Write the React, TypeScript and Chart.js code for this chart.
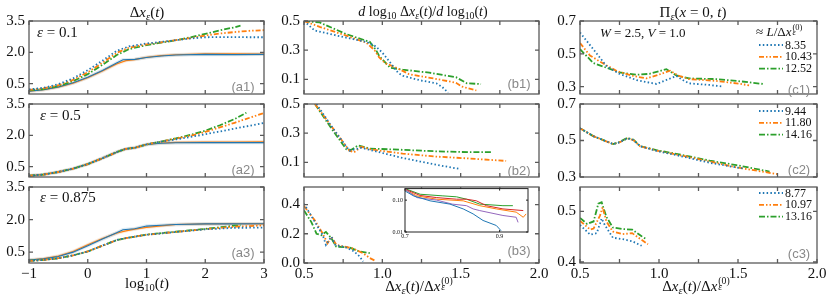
import React, { useEffect, useRef } from 'react';
import { Chart, registerables } from 'chart.js';
Chart.register(...registerables);

type Pt = [number, number];

// ---------- tick values ----------
const A_X_LABELS = [-1, 0, 1, 2, 3];
const BC_X_LABELS = [0.5, 1.0, 1.5, 2.0];
const BC_X_MARKS = [0.5, 0.75, 1.0, 1.25, 1.5, 1.75, 2.0];
const A_Y_TICKS = [0.5, 2.0, 3.5];
const B12_Y_TICKS = [0.1, 0.3, 0.5];
const B3_Y_TICKS = [0.0, 0.2, 0.4];
const C12_Y_TICKS = [0.3, 0.5, 0.7];
const C3_Y_TICKS = [0.4, 0.5];
const INSET_X_TICKS = [0.7, 0.9];
const INSET_Y_TICKS = [0.01, 0.1];

// ---------- legend labels ----------
const C1_LABELS = ['8.35', '10.43', '12.52'];
const C2_LABELS = ['9.44', '11.80', '14.16'];
const C3_LABELS = ['8.77', '10.97', '13.16'];

// ---------- panel a1 ----------
const a1Blue: Pt[] = [[-1, 0.22], [-0.75, 0.3], [-0.5, 0.47], [-0.25, 0.75], [0, 1.14], [0.25, 1.6], [0.5, 2.08], [0.7, 2.28], [1, 2.42], [1.25, 2.5], [1.5, 2.58], [1.75, 2.66], [2, 2.72], [2.25, 2.73], [2.5, 2.73], [2.75, 2.72], [3, 2.72]];
const a1Orange: Pt[] = [[-1, 0.2], [-0.75, 0.27], [-0.5, 0.42], [-0.25, 0.68], [0, 1.04], [0.25, 1.5], [0.5, 1.98], [0.7, 2.22], [1, 2.38], [1.25, 2.48], [1.5, 2.58], [1.75, 2.68], [2, 2.8], [2.25, 2.9], [2.5, 2.97], [2.75, 3.03], [3, 3.06]];
const a1Green: Pt[] = [[-1, 0.18], [-0.75, 0.24], [-0.5, 0.38], [-0.25, 0.62], [0, 0.95], [0.25, 1.4], [0.5, 1.88], [0.7, 2.15], [1, 2.34], [1.25, 2.46], [1.5, 2.58], [1.75, 2.72], [2, 2.88], [2.25, 3.05], [2.5, 3.2], [2.6, 3.28]];
const a1SolidBlue: Pt[] = [[-1, 0.14], [-0.75, 0.21], [-0.5, 0.34], [-0.25, 0.54], [0, 0.8], [0.25, 1.13], [0.5, 1.5], [0.6, 1.64], [0.8, 1.66], [1, 1.75], [1.25, 1.82], [1.5, 1.87], [2, 1.9], [2.5, 1.89], [3, 1.9]];
const a1SolidOrange: Pt[] = [[-1, 0.13], [-0.75, 0.2], [-0.5, 0.33], [-0.25, 0.52], [0, 0.78], [0.25, 1.1], [0.5, 1.45], [0.65, 1.6], [0.8, 1.65], [1, 1.76], [1.25, 1.84], [1.5, 1.88], [2, 1.93], [2.5, 1.93], [3, 1.92]];

// ---------- panel a2 ----------
const a2Blue: Pt[] = [[-1, 0.06], [-0.75, 0.12], [-0.5, 0.24], [-0.25, 0.4], [0, 0.62], [0.25, 0.9], [0.5, 1.2], [0.65, 1.35], [0.8, 1.4], [1, 1.56], [1.25, 1.7], [1.5, 1.8], [1.75, 1.92], [2, 2.05], [2.5, 2.32], [3, 2.59]];
const a2Orange: Pt[] = [[-1, 0.06], [-0.75, 0.12], [-0.5, 0.24], [-0.25, 0.4], [0, 0.62], [0.25, 0.9], [0.5, 1.2], [0.65, 1.35], [0.8, 1.4], [1, 1.56], [1.25, 1.7], [1.5, 1.84], [1.75, 1.98], [2, 2.16], [2.5, 2.6], [3, 3.07]];
const a2Green: Pt[] = [[-1, 0.06], [-0.75, 0.12], [-0.5, 0.24], [-0.25, 0.4], [0, 0.62], [0.25, 0.9], [0.5, 1.2], [0.65, 1.35], [0.8, 1.4], [1, 1.56], [1.25, 1.7], [1.5, 1.85], [1.75, 2.02], [2, 2.22], [2.25, 2.48], [2.5, 2.78], [2.7, 3.08]];
const a2SolidBlue: Pt[] = [[-1, 0.06], [-0.75, 0.12], [-0.5, 0.24], [-0.25, 0.4], [0, 0.62], [0.25, 0.9], [0.5, 1.2], [0.65, 1.35], [0.8, 1.4], [1, 1.56], [1.25, 1.62], [1.5, 1.64], [2, 1.65], [2.5, 1.65], [3, 1.65]];
const a2SolidOrange: Pt[] = [[-1, 0.06], [-0.75, 0.12], [-0.5, 0.24], [-0.25, 0.4], [0, 0.62], [0.25, 0.9], [0.5, 1.2], [0.65, 1.35], [0.8, 1.4], [1, 1.56], [1.25, 1.63], [1.5, 1.66], [2, 1.67], [2.5, 1.68], [3, 1.69]];

// ---------- panel a3 ----------
const a3Blue: Pt[] = [[-1, 0.1], [-0.75, 0.14], [-0.5, 0.22], [-0.25, 0.35], [0, 0.53], [0.25, 0.8], [0.5, 1.06], [0.7, 1.17], [1, 1.3], [1.5, 1.43], [2, 1.55], [2.5, 1.62], [3, 1.63]];
const a3Orange: Pt[] = [[-1, 0.1], [-0.75, 0.14], [-0.5, 0.22], [-0.25, 0.35], [0, 0.53], [0.25, 0.8], [0.5, 1.06], [0.7, 1.17], [1, 1.3], [1.5, 1.43], [2, 1.56], [2.5, 1.67], [3, 1.73]];
const a3Green: Pt[] = [[-1, 0.1], [-0.75, 0.14], [-0.5, 0.22], [-0.25, 0.35], [0, 0.53], [0.25, 0.8], [0.5, 1.06], [0.7, 1.17], [1, 1.31], [1.5, 1.44], [2, 1.57], [2.5, 1.72], [2.6, 1.73]];
const a3SolidBlue: Pt[] = [[-1, 0.14], [-0.75, 0.19], [-0.5, 0.3], [-0.25, 0.5], [0, 0.8], [0.25, 1.1], [0.5, 1.4], [0.6, 1.53], [0.8, 1.58], [1, 1.7], [1.25, 1.74], [1.5, 1.77], [2, 1.8], [2.5, 1.8], [3, 1.81]];
const a3SolidOrange: Pt[] = [[-1, 0.14], [-0.75, 0.2], [-0.5, 0.32], [-0.25, 0.53], [0, 0.84], [0.25, 1.13], [0.5, 1.38], [0.65, 1.48], [0.8, 1.56], [1, 1.64], [1.25, 1.71], [1.5, 1.77], [2, 1.8], [2.5, 1.81], [3, 1.8]];

// ---------- panel b1 ----------
const b1Blue: Pt[] = [[0.5, 0.5], [0.568, 0.435], [0.65, 0.415], [0.76, 0.388], [0.9, 0.357], [0.96, 0.325], [1.0, 0.283], [1.047, 0.22], [1.1, 0.146], [1.13, 0.125], [1.24, 0.094], [1.345, 0.073], [1.38, 0.05], [1.42, 0.01]];
const b1Orange: Pt[] = [[0.5, 0.5], [0.6, 0.46], [0.77, 0.4], [0.9, 0.35], [0.95, 0.3], [0.98, 0.25], [1.02, 0.21], [1.09, 0.18], [1.17, 0.136], [1.28, 0.115], [1.39, 0.094], [1.47, 0.077], [1.51, 0.05], [1.6, 0.024]];
const b1Green: Pt[] = [[0.5, 0.5], [0.6, 0.49], [0.77, 0.41], [0.92, 0.357], [0.96, 0.3], [0.98, 0.26], [1.05, 0.18], [1.13, 0.167], [1.3, 0.146], [1.47, 0.115], [1.54, 0.073], [1.63, 0.068]];

// ---------- panel b2 ----------
const b2Blue: Pt[] = [[0.58, 0.5], [0.68, 0.34], [0.79, 0.18], [0.866, 0.2], [0.98, 0.17], [1.13, 0.13], [1.24, 0.106], [1.39, 0.075], [1.5, 0.054]];
const b2Orange: Pt[] = [[0.57, 0.5], [0.68, 0.34], [0.79, 0.18], [0.82, 0.17], [0.866, 0.207], [0.92, 0.19], [1.13, 0.16], [1.34, 0.14], [1.55, 0.127], [1.79, 0.11]];
const b2Green: Pt[] = [[0.57, 0.5], [0.67, 0.34], [0.77, 0.19], [0.8, 0.185], [0.845, 0.216], [0.92, 0.195], [1.13, 0.186], [1.34, 0.176], [1.55, 0.17], [1.7, 0.17]];

// ---------- panel b3 ----------
const b3Blue: Pt[] = [[0.5, 0.405], [0.557, 0.303], [0.62, 0.19], [0.64, 0.124], [0.675, 0.18], [0.7, 0.124], [0.77, 0.106], [0.82, 0.079], [0.855, 0.045], [0.877, 0.011]];
const b3Orange: Pt[] = [[0.5, 0.39], [0.57, 0.29], [0.62, 0.2], [0.65, 0.135], [0.675, 0.18], [0.706, 0.124], [0.81, 0.1], [0.877, 0.067], [0.92, 0.034], [0.95, 0.018]];
const b3Green: Pt[] = [[0.5, 0.36], [0.547, 0.28], [0.58, 0.2], [0.61, 0.19], [0.64, 0.213], [0.675, 0.169], [0.706, 0.112], [0.79, 0.106], [0.855, 0.079], [0.92, 0.067]];

// ---------- inset (b3) ----------
const inBlue: Pt[] = [[0.7, 0.194], [0.718, 0.136], [0.753, 0.095], [0.795, 0.075], [0.823, 0.053], [0.844, 0.037], [0.865, 0.023], [0.893, 0.016], [0.903, 0.011]];
const inPurple: Pt[] = [[0.7, 0.22], [0.725, 0.12], [0.767, 0.1], [0.8, 0.075], [0.83, 0.067], [0.844, 0.053], [0.858, 0.047], [0.907, 0.033], [0.935, 0.029], [0.939, 0.02]];
const inOrange: Pt[] = [[0.7, 0.21], [0.725, 0.136], [0.767, 0.107], [0.823, 0.095], [0.858, 0.067], [0.893, 0.053], [0.935, 0.042], [0.95, 0.029], [0.956, 0.037]];
const inRed: Pt[] = [[0.7, 0.22], [0.732, 0.14], [0.767, 0.12], [0.809, 0.107], [0.83, 0.107], [0.851, 0.095], [0.872, 0.067], [0.907, 0.053], [0.95, 0.047]];
const inGreen: Pt[] = [[0.7, 0.23], [0.732, 0.153], [0.78, 0.136], [0.809, 0.127], [0.83, 0.107], [0.858, 0.075], [0.907, 0.067], [0.928, 0.067]];

// ---------- panel c1 ----------
const c1Blue: Pt[] = [[0.5, 0.63], [0.584, 0.528], [0.668, 0.425], [0.75, 0.378], [0.858, 0.34], [0.984, 0.316], [1.11, 0.365], [1.15, 0.34], [1.19, 0.32], [1.32, 0.31], [1.405, 0.3]];
const c1Orange: Pt[] = [[0.5, 0.566], [0.563, 0.49], [0.626, 0.453], [0.73, 0.396], [0.837, 0.365], [0.92, 0.35], [0.984, 0.368], [1.07, 0.397], [1.12, 0.368], [1.19, 0.346], [1.36, 0.335], [1.49, 0.32], [1.57, 0.308]];
const c1Green: Pt[] = [[0.5, 0.528], [0.584, 0.444], [0.668, 0.415], [0.75, 0.387], [0.858, 0.372], [0.94, 0.378], [1.047, 0.406], [1.11, 0.368], [1.19, 0.35], [1.36, 0.346], [1.49, 0.335], [1.66, 0.316]];

// ---------- panel c2 ----------
const c2Blue: Pt[] = [[0.5, 0.567], [0.584, 0.524], [0.71, 0.48], [0.75, 0.49], [0.8, 0.512], [0.837, 0.503], [0.88, 0.469], [0.984, 0.443], [1.15, 0.412], [1.32, 0.378], [1.54, 0.345]];
const c2Orange: Pt[] = [[0.5, 0.567], [0.584, 0.524], [0.71, 0.48], [0.75, 0.49], [0.8, 0.512], [0.837, 0.503], [0.88, 0.469], [0.984, 0.445], [1.15, 0.416], [1.32, 0.385], [1.49, 0.353], [1.76, 0.314]];
const c2Green: Pt[] = [[0.5, 0.567], [0.584, 0.524], [0.71, 0.48], [0.75, 0.492], [0.8, 0.514], [0.837, 0.505], [0.88, 0.47], [0.984, 0.447], [1.15, 0.42], [1.32, 0.39], [1.49, 0.365], [1.7, 0.33]];

// ---------- panel c3 ----------
const c3Blue: Pt[] = [[0.5, 0.473], [0.565, 0.454], [0.606, 0.457], [0.627, 0.476], [0.637, 0.486], [0.657, 0.473], [0.708, 0.448], [0.77, 0.445], [0.83, 0.441], [0.89, 0.432]];
const c3Orange: Pt[] = [[0.5, 0.481], [0.565, 0.464], [0.586, 0.466], [0.627, 0.492], [0.643, 0.508], [0.667, 0.48], [0.708, 0.46], [0.77, 0.455], [0.83, 0.457], [0.87, 0.448], [0.93, 0.435]];
const c3Green: Pt[] = [[0.5, 0.487], [0.545, 0.475], [0.586, 0.48], [0.616, 0.515], [0.637, 0.518], [0.667, 0.489], [0.708, 0.468], [0.77, 0.465], [0.83, 0.464], [0.89, 0.451], [0.92, 0.445]];

// ---------- styles ----------
const BLUE = '#1f77b4';
const ORANGE = '#ff7f0e';
const GREEN = '#2ca02c';
const RED = '#d62728';
const PURPLE = '#9467bd';
const DOT = [1.5, 2.3];
const DDD = [5, 2, 1.5, 2, 1.5, 2];
const DD = [6, 2, 1.5, 2];
const SERIF = '"Liberation Serif", "DejaVu Serif", serif';
const SANS = '"Liberation Sans", Arial, sans-serif';

type Series = { pts: Pt[]; color: string; dash: number[]; width: number; halo?: boolean };
type Spec = {
  rect: [number, number, number, number];
  xMin: number; xMax: number; xLabels: number[]; xMarks: number[]; xFmt: (v: number) => string; showX: boolean;
  yMin: number; yMax: number; yTicks: number[]; yFmt: (v: number) => string; yLog?: boolean;
  series: Series[];
  legend?: { labels: string[]; top: number };
  inset?: boolean;
};

const trio = (b: Pt[], o: Pt[], g: Pt[]): Series[] => [
  { pts: b, color: BLUE, dash: DOT, width: 1.8 },
  { pts: o, color: ORANGE, dash: DDD, width: 1.8 },
  { pts: g, color: GREEN, dash: DD, width: 1.8 },
];
const solids = (b: Pt[], o: Pt[]): Series[] => [
  { pts: b, color: BLUE, dash: [], width: 1.1, halo: true },
  { pts: o, color: ORANGE, dash: [], width: 1.1, halo: true },
];

const fmtA = (v: number) => (v < 0 ? '\u2212' + Math.abs(v) : String(v));
const f1 = (v: number) => v.toFixed(1);
const f2 = (v: number) => v.toFixed(2);

const COLS: [number, number][] = [[29, 235], [304, 235], [580, 237]];
const ROWS: [number, number][] = [[18, 79], [101, 79], [184, 79]];
const rect = (c: number, r: number): [number, number, number, number] => [COLS[c][0], ROWS[r][0], COLS[c][1], ROWS[r][1]];

const aBase = { xMin: -1, xMax: 3, xLabels: A_X_LABELS, xMarks: A_X_LABELS, xFmt: fmtA, yMin: 0, yMax: 3.5, yTicks: A_Y_TICKS, yFmt: f1 };
const bcBase = { xMin: 0.5, xMax: 2.0, xLabels: BC_X_LABELS, xMarks: BC_X_MARKS, xFmt: f1, yFmt: f1 };

const SPECS: Spec[] = [
  { ...aBase, rect: rect(0, 0), showX: false, series: [...trio(a1Blue, a1Orange, a1Green), ...solids(a1SolidBlue, a1SolidOrange)] },
  { ...aBase, rect: rect(0, 1), showX: false, series: [...trio(a2Blue, a2Orange, a2Green), ...solids(a2SolidBlue, a2SolidOrange)] },
  { ...aBase, rect: rect(0, 2), showX: true, series: [...trio(a3Blue, a3Orange, a3Green), ...solids(a3SolidBlue, a3SolidOrange)] },
  { ...bcBase, rect: rect(1, 0), showX: false, yMin: 0, yMax: 0.5, yTicks: B12_Y_TICKS, series: trio(b1Blue, b1Orange, b1Green) },
  { ...bcBase, rect: rect(1, 1), showX: false, yMin: 0, yMax: 0.5, yTicks: B12_Y_TICKS, series: trio(b2Blue, b2Orange, b2Green) },
  { ...bcBase, rect: rect(1, 2), showX: true, yMin: 0, yMax: 0.52, yTicks: B3_Y_TICKS, series: trio(b3Blue, b3Orange, b3Green) },
  { ...bcBase, rect: rect(2, 0), showX: false, yMin: 0.255, yMax: 0.7, yTicks: C12_Y_TICKS, series: trio(c1Blue, c1Orange, c1Green), legend: { labels: C1_LABELS, top: 24 } },
  { ...bcBase, rect: rect(2, 1), showX: false, yMin: 0.3, yMax: 0.7, yTicks: C12_Y_TICKS, series: trio(c2Blue, c2Orange, c2Green), legend: { labels: C2_LABELS, top: 7 } },
  { ...bcBase, rect: rect(2, 2), showX: true, yMin: 0.398, yMax: 0.548, yTicks: C3_Y_TICKS, series: trio(c3Blue, c3Orange, c3Green), legend: { labels: C3_LABELS, top: 6 } },
  {
    rect: [405, 187, 123, 45], inset: true, showX: true,
    xMin: 0.7, xMax: 0.96, xLabels: INSET_X_TICKS, xMarks: INSET_X_TICKS, xFmt: f1,
    yMin: 0.01, yMax: 0.23, yTicks: INSET_Y_TICKS, yFmt: f2, yLog: true,
    series: [
      { pts: inBlue, color: BLUE, dash: [], width: 1 },
      { pts: inPurple, color: PURPLE, dash: [], width: 1 },
      { pts: inOrange, color: ORANGE, dash: [], width: 1 },
      { pts: inRed, color: RED, dash: [], width: 1 },
      { pts: inGreen, color: GREEN, dash: [], width: 1 },
    ],
  },
];

function alpha(hex: string, a: number) {
  const n = parseInt(hex.slice(1), 16);
  return `rgba(${(n >> 16) & 255},${(n >> 8) & 255},${n & 255},${a})`;
}

function PanelChart({ spec }: { spec: Spec }) {
  const ref = useRef<HTMLCanvasElement>(null);
  const [L, T, W, H] = spec.rect;
  const inset = !!spec.inset;
  const padL = inset ? 24 : 44;
  const padT = inset ? 4 : 10;
  const padR = inset ? 6 : 18;
  const padB = spec.showX ? (inset ? 10 : 30) : 10;
  const cw = padL + W + padR;
  const ch = padT + H + padB;

  useEffect(() => {
    const canvas = ref.current;
    if (!canvas) return;
    const datasets: any[] = spec.series.map((s) => ({
      data: s.pts.map(([x, y]) => ({ x, y })),
      borderColor: s.color,
      borderDash: s.dash,
      borderWidth: s.width,
      pointRadius: 0,
      tension: 0,
      fill: false,
      order: 1,
    }));
    spec.series.filter((s) => s.halo).forEach((s) => {
      datasets.push({
        data: s.pts.map(([x, y]) => ({ x, y })),
        borderColor: alpha(s.color, 0.14),
        borderWidth: 3.5,
        pointRadius: 0,
        tension: 0,
        fill: false,
        order: 2,
      });
    });

    const tickLen = inset ? 2 : 4;
    const frame = {
      id: 'frame',
      beforeDraw(chart: any) {
        if (!inset) return;
        const { ctx, chartArea: c } = chart;
        ctx.save();
        ctx.fillStyle = '#fff';
        ctx.fillRect(c.left, c.top, c.right - c.left, c.bottom - c.top);
        ctx.restore();
      },
      afterDraw(chart: any) {
        const { ctx, chartArea: c, scales } = chart;
        ctx.save();
        ctx.strokeStyle = inset ? '#222' : '#5a5a5a';
        ctx.lineWidth = inset ? 1 : 1.3;
        ctx.beginPath();
        for (const v of spec.xMarks) {
          const px = scales.x.getPixelForValue(v);
          ctx.moveTo(px, c.top); ctx.lineTo(px, c.top + tickLen);
          ctx.moveTo(px, c.bottom); ctx.lineTo(px, c.bottom - tickLen);
        }
        for (const v of spec.yTicks) {
          const py = scales.y.getPixelForValue(v);
          ctx.moveTo(c.left, py); ctx.lineTo(c.left + tickLen, py);
          ctx.moveTo(c.right, py); ctx.lineTo(c.right - tickLen, py);
        }
        ctx.stroke();
        ctx.strokeRect(c.left, c.top, c.right - c.left, c.bottom - c.top);
        ctx.restore();
      },
    };

    const legend = {
      id: 'innerLegend',
      afterDraw(chart: any) {
        if (!spec.legend) return;
        const { ctx, chartArea: c } = chart;
        ctx.save();
        ctx.font = `12px ${SERIF}`;
        ctx.textBaseline = 'middle';
        ctx.textAlign = 'left';
        spec.legend.labels.forEach((lab, i) => {
          const s = spec.series[i];
          const y = c.top + spec.legend!.top + i * 11.8;
          ctx.strokeStyle = s.color;
          ctx.lineWidth = s.width;
          ctx.setLineDash(s.dash);
          ctx.beginPath();
          ctx.moveTo(c.right - 58, y);
          ctx.lineTo(c.right - 34, y);
          ctx.stroke();
          ctx.setLineDash([]);
          ctx.fillStyle = '#111';
          ctx.fillText(lab, c.right - 32, y + 0.5);
        });
        ctx.restore();
      },
    };

    const tickFont = { family: SERIF, size: inset ? 6 : 15 };
    const chart = new Chart(canvas, {
      type: 'line',
      data: { datasets },
      options: {
        responsive: false,
        animation: false,
        devicePixelRatio: 1,
        layout: { padding: { top: padT, right: padR, left: 0, bottom: 0 } },
        plugins: { legend: { display: false }, tooltip: { enabled: false } },
        scales: {
          x: {
            type: 'linear',
            min: spec.xMin,
            max: spec.xMax,
            grid: { display: false, drawTicks: false },
            border: { display: false },
            ticks: {
              display: spec.showX,
              font: tickFont,
              color: '#111',
              padding: inset ? 1 : 2,
              autoSkip: false,
              maxRotation: 0,
              callback: (v: any) => spec.xFmt(Number(v)),
            },
            afterBuildTicks: (s: any) => { s.ticks = spec.xLabels.map((v) => ({ value: v })); },
            afterFit: (s: any) => { s.height = padB; },
          },
          y: {
            type: spec.yLog ? 'logarithmic' : 'linear',
            min: spec.yMin,
            max: spec.yMax,
            grid: { display: false, drawTicks: false },
            border: { display: false },
            ticks: {
              font: tickFont,
              color: '#111',
              padding: inset ? 2 : 4,
              autoSkip: false,
              callback: (v: any) => spec.yFmt(Number(v)),
            },
            afterBuildTicks: (s: any) => { s.ticks = spec.yTicks.map((v) => ({ value: v })); },
            afterFit: (s: any) => { s.width = padL; },
          },
        },
      } as any,
      plugins: [frame, legend],
    });
    return () => chart.destroy();
  }, []);

  return (
    <canvas
      ref={ref}
      width={cw}
      height={ch}
      style={{ position: 'absolute', left: L - padL, top: T - padT, width: cw, height: ch }}
    />
  );
}

function Txt({ x, y, children, align = 'center', size = 15, color = '#111', family = SERIF }: any) {
  const tx = align === 'center' ? '-50%' : align === 'right' ? '-100%' : '0';
  return (
    <div
      style={{
        position: 'absolute', left: x, top: y, transform: `translate(${tx}, -50%)`,
        fontFamily: family, fontSize: size, color, whiteSpace: 'nowrap', lineHeight: 1,
      }}
    >
      {children}
    </div>
  );
}

const sub: React.CSSProperties = { fontSize: '0.7em', verticalAlign: '-0.3em', lineHeight: 0 };

const DxE = () => (
  <span>Δ<i>x</i><span style={sub}><i>ε</i></span></span>
);
const DxE0 = () => (
  <span>
    Δ<i>x</i>
    <span style={{ position: 'relative', display: 'inline-block', width: '1.1em', height: '1em', verticalAlign: 'baseline' }}>
      <span style={{ position: 'absolute', left: 1, top: '0.02em', fontSize: '0.65em', lineHeight: 1 }}>(0)</span>
      <span style={{ position: 'absolute', left: 1, top: '0.62em', fontSize: '0.65em', lineHeight: 1 }}><i>ε</i></span>
    </span>
  </span>
);

export default function App() {
  const tags: [string, number, number][] = [
    ['(a1)', 243, 86], ['(a2)', 243, 169], ['(a3)', 243, 252],
    ['(b1)', 519, 83], ['(b2)', 519, 170], ['(b3)', 519, 250],
    ['(c1)', 799, 89], ['(c2)', 799, 169], ['(c3)', 799, 253],
  ];
  return (
    <div style={{ position: 'absolute', left: 0, top: 0, width: 831, height: 300, background: '#fff', overflow: 'hidden' }}>
      {SPECS.map((s, i) => <PanelChart key={i} spec={s} />)}

      <Txt x={147} y={12}><DxE />(<i>t</i>)</Txt>
      <Txt x={423} y={12} size={14}><i>d</i> log<span style={sub}>10</span> <DxE />(<i>t</i>)/<i>d</i> log<span style={sub}>10</span>(<i>t</i>)</Txt>
      <Txt x={693} y={12}>Π<span style={sub}><i>ε</i></span>(<i>x</i> = 0, <i>t</i>)</Txt>

      <Txt x={147} y={283}>log<span style={sub}>10</span>(<i>t</i>)</Txt>
      <Txt x={421} y={285}><DxE />(<i>t</i>)/<DxE0 /></Txt>
      <Txt x={698} y={285}><DxE />(<i>t</i>)/<DxE0 /></Txt>

      <Txt x={37} y={32} align="left"><i>ε</i> = 0.1</Txt>
      <Txt x={40} y={115} align="left"><i>ε</i> = 0.5</Txt>
      <Txt x={40} y={197} align="left"><i>ε</i> = 0.875</Txt>

      <Txt x={600} y={32} align="left" size={13}><i>W</i> = 2.5, <i>V</i> = 1.0</Txt>
      <Txt x={756} y={30} align="left" size={13}>≈ <i>L</i>/<DxE0 /></Txt>

      {tags.map(([t, x, y]) => (
        <Txt key={t} x={x} y={y} size={13} color="#888" family={SANS}>{t}</Txt>
      ))}
    </div>
  );
}
